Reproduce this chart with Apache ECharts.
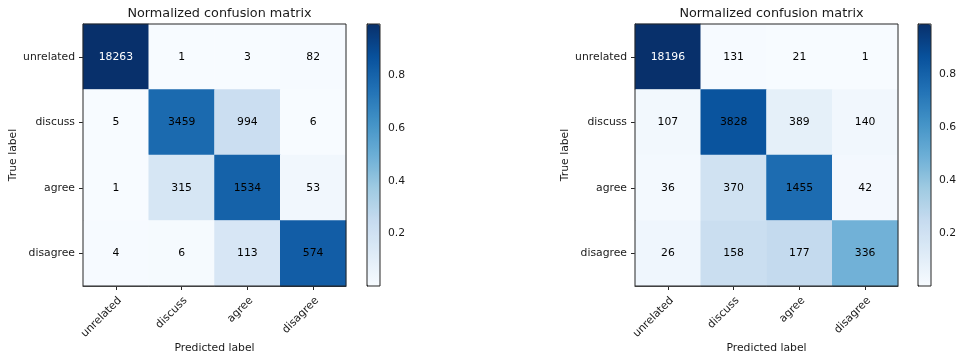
<!DOCTYPE html>
<html>
<head>
<meta charset="utf-8">
<script src="https://cdn.jsdelivr.net/npm/echarts@6/dist/echarts.min.js"></script>
<style>
  html, body { margin: 0; padding: 0; background: #fff; }
  #chart { width: 956px; height: 354px; }
</style>
</head>
<body>
<div id="chart"></div>
<script>
// Class labels (rows = true label, columns = predicted label)
const classes = ['unrelated', 'discuss', 'agree', 'disagree'];

// Raw counts for the two models
const countsLeft = [
  [18263, 1, 3, 82],
  [5, 3459, 994, 6],
  [1, 315, 1534, 53],
  [4, 6, 113, 574]
];
const countsRight = [
  [18196, 131, 21, 1],
  [107, 3828, 389, 140],
  [36, 370, 1455, 42],
  [26, 158, 177, 336]
];

// Colorbar tick labels
const colorbarTicks = [0.2, 0.4, 0.6, 0.8];

const titleText = 'Normalized confusion matrix';

// Matplotlib "Blues" colormap stops
const blues = ['#f7fbff', '#deebf7', '#c6dbef', '#9ecae1', '#6baed6',
               '#4292c6', '#2171b5', '#08519c', '#08306b'];

const FONT = 'DejaVu Sans';
const INK = '#1a1a1a';
const SPINE = '#262626';
const FS = 10.8;

// Row-normalise a count matrix and build heatmap items
function buildMatrix(counts) {
  const norm = counts.map(r => {
    const s = r.reduce((a, b) => a + b, 0);
    return r.map(v => v / s);
  });
  let maxCount = 0, minN = Infinity, maxN = -Infinity;
  counts.forEach((r, i) => r.forEach((v, j) => {
    maxCount = Math.max(maxCount, v);
    minN = Math.min(minN, norm[i][j]);
    maxN = Math.max(maxN, norm[i][j]);
  }));
  const thresh = maxCount / 2;
  const items = [];
  counts.forEach((r, i) => r.forEach((v, j) => {
    items.push({
      value: [j, i, norm[i][j], v],
      label: { color: v > thresh ? '#ffffff' : '#000000' }
    });
  }));
  return { items, minN, maxN };
}

const left = buildMatrix(countsLeft);
const right = buildMatrix(countsRight);

// Panel layout (pixels)
const panels = [
  { m: left,  gx: 83,  cbx: 367 },
  { m: right, gx: 635, cbx: 918 }
];
const GY = 24, GW = 263, GH = 262, CBW = 13;

const grids = [], xAxes = [], yAxes = [], series = [], visualMaps = [], titles = [];

panels.forEach((p, k) => {
  const gi = grids.length;
  // matrix grid
  grids.push({ left: p.gx, top: GY, width: GW, height: GH, show: true, outerBoundsMode: 'none',
               containLabel: false,
               borderColor: SPINE, borderWidth: 1, backgroundColor: 'transparent', z: 10 });
  // colorbar grid
  grids.push({ left: p.cbx, top: GY, width: CBW, height: GH, show: true, outerBoundsMode: 'none',
               containLabel: false,
               borderColor: SPINE, borderWidth: 1, backgroundColor: 'transparent', z: 10 });

  xAxes.push({
    type: 'category', gridIndex: gi, data: classes, position: 'bottom',
    name: 'Predicted label', nameLocation: 'middle', nameGap: 57, nameMoveOverlap: false,
    nameTextStyle: { fontFamily: FONT, fontSize: FS, color: INK },
    axisLine: { show: true, lineStyle: { color: SPINE, width: 1 } },
    axisTick: { show: true, alignWithLabel: true, length: 4, lineStyle: { color: SPINE } },
    axisLabel: { rotate: 45, margin: 9, verticalAlign: 'top', fontFamily: FONT, fontSize: FS,
                 color: INK, interval: 0 },
    splitLine: { show: false }
  });
  yAxes.push({
    type: 'category', gridIndex: gi, data: classes, inverse: true,
    name: 'True label', nameLocation: 'middle', nameGap: 64, nameMoveOverlap: false,
    nameTextStyle: { fontFamily: FONT, fontSize: FS, color: INK },
    axisLine: { show: true, lineStyle: { color: SPINE, width: 1 } },
    axisTick: { show: true, alignWithLabel: true, length: 4, lineStyle: { color: SPINE } },
    axisLabel: { margin: 8, fontFamily: FONT, fontSize: FS, color: INK, interval: 0 },
    splitLine: { show: false }
  });

  // colorbar axes
  xAxes.push({ type: 'value', gridIndex: gi + 1, show: false, min: 0, max: 1 });
  yAxes.push({
    type: 'value', gridIndex: gi + 1, position: 'right',
    min: p.m.minN, max: p.m.maxN,
    axisLine: { show: true, lineStyle: { color: SPINE, width: 1 } },
    axisTick: { show: true, length: 4, customValues: colorbarTicks, lineStyle: { color: SPINE } },
    axisLabel: { margin: 8, customValues: colorbarTicks, fontFamily: FONT, fontSize: FS, color: INK,
                 formatter: v => v.toFixed(1) },
    splitLine: { show: false }
  });

  series.push({
    type: 'heatmap', xAxisIndex: xAxes.length - 2, yAxisIndex: yAxes.length - 2,
    data: p.m.items, encode: { x: 0, y: 1, value: 2 },
    label: { show: true, fontFamily: FONT, fontSize: FS,
             formatter: prm => String(prm.value[3]) },
    itemStyle: { borderWidth: 0 },
    emphasis: { disabled: true }
  });

  visualMaps.push({
    type: 'continuous', seriesIndex: k, dimension: 2,
    min: p.m.minN, max: p.m.maxN,
    inRange: { color: blues },
    calculable: false, hoverLink: false, realtime: false,
    orient: 'vertical', left: p.cbx, top: GY, padding: 0,
    itemWidth: CBW, itemHeight: GH, text: null, showLabel: false,
    textStyle: { color: 'transparent' }
  });

  titles.push({
    text: titleText, left: p.gx + GW / 2, top: 2, textAlign: 'center',
    textStyle: { fontFamily: FONT, fontSize: 12.8, fontWeight: 'normal', color: INK }
  });
});

const chart = echarts.init(document.getElementById('chart'), null, { renderer: 'canvas' });
chart.setOption({
  backgroundColor: '#ffffff',
  animation: false,
  title: titles,
  grid: grids,
  xAxis: xAxes,
  yAxis: yAxes,
  visualMap: visualMaps,
  series: series
});
</script>
</body>
</html>
